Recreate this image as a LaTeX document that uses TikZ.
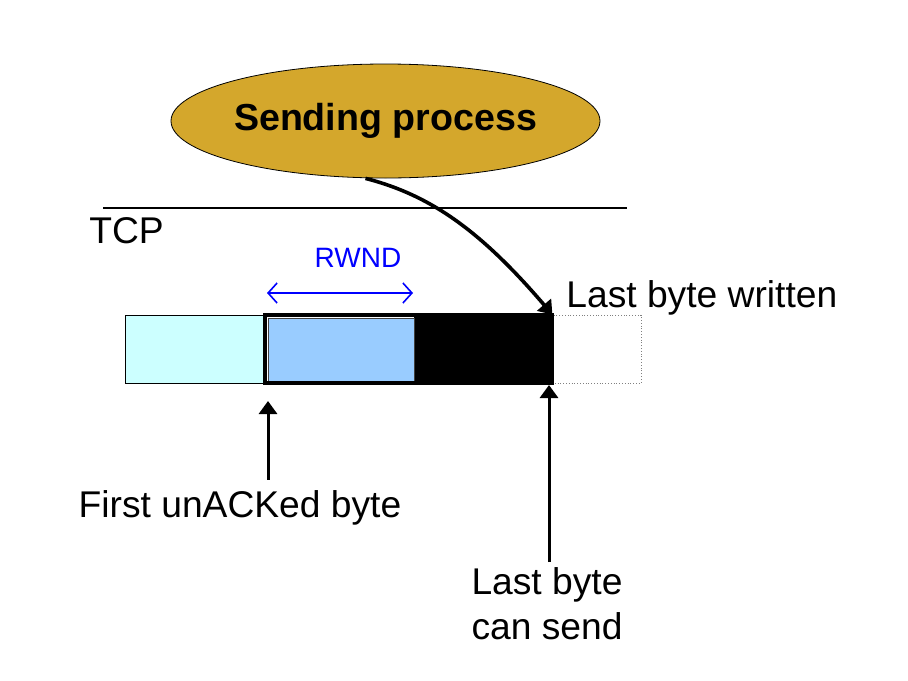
\documentclass[tikz,border=0pt]{standalone}
\usepackage{fontspec}
\setmainfont{Liberation Sans}
\usepackage{xcolor}
\usetikzlibrary{
  positioning,
  shapes.geometric,
  arrows.meta
}
\definecolor{procgold}{HTML}{D4A72C}
\definecolor{sentcyan}{HTML}{CCFFFF}
\definecolor{rwndblue}{HTML}{99CCFF}

\begin{document}
\begin{tikzpicture}[x=0.5pt,y=-0.5pt,
        txt/.style={font=\fontsize{18.6}{22.5}\selectfont, inner sep=0pt},
        cell/.style={rectangle, inner sep=0pt, minimum height=34pt},
        ptr/.style={line width=1.5pt, -{Triangle[width=9pt,length=6.5pt]}}]
        \useasboundingbox (0,0) rectangle (908,680);

        % sending process and TCP layer
        \node[ellipse, draw, fill=procgold, minimum width=214.5pt, minimum height=57pt, inner sep=0pt,
            font=\fontsize{18.8}{22}\selectfont\bfseries] (proc) at (385.5,121) {Sending process};
        \coordinate (tcpleft) at (103,208);
        \coordinate (tcpright) at (627,208);
        \draw[line width=0.6pt] (tcpleft) -- (tcpright);
        \node[txt, anchor=base west] (tcp) at (89,243) {TCP};

        % send buffer
        \node[cell, draw, fill=sentcyan, minimum width=70pt] (sent) at (195,349) {};
        \node[cell, draw=gray, densely dotted, minimum width=44.5pt] (empty) at (596.5,349) {};
        \node[cell, fill=black, minimum width=69pt] (ready) at (483,349) {};
        \node[cell, draw=darkgray, fill=rwndblue, minimum width=73pt, minimum height=31.5pt] (rwnd) at (341,349.5) {};
        \draw[line width=2pt] (sent.north east) rectangle (ready.south east);

        % window size
        \node[font=\fontsize{14}{16}\selectfont, text=blue, inner sep=0pt] (rwndlbl) at (358,258) {RWND};
        \coordinate (rwndl) at (267,293);
        \coordinate (rwndr) at (413,293);
        \draw[blue, line width=0.8pt, {Straight Barb[length=4.5pt,width=10pt]}-{Straight Barb[length=4.5pt,width=10pt]}] (rwndl) -- (rwndr);

        % pointers
        \node[txt, anchor=base west] (written) at (566,307) {Last byte written};
        \draw[ptr, line width=1.8pt] ([xshift=-10pt]proc.south) .. controls (430,195) and (480,230) .. (ready.north east);

        \node[txt, anchor=base] (firstlbl) at (240,517) {First unACKed byte};
        \coordinate (ackptr) at (268,401);
        \draw[ptr] ([yshift=5pt]firstlbl.north -| ackptr) -- (ackptr);

        \node[txt, anchor=north, align=center] (canlbl) at (547,567) {Last byte\\can send};
        \coordinate (canptr) at (549,385);
        \draw[ptr] ([yshift=2.5pt]canlbl.north -| canptr) -- (canptr);
    \end{tikzpicture}
\end{document}
